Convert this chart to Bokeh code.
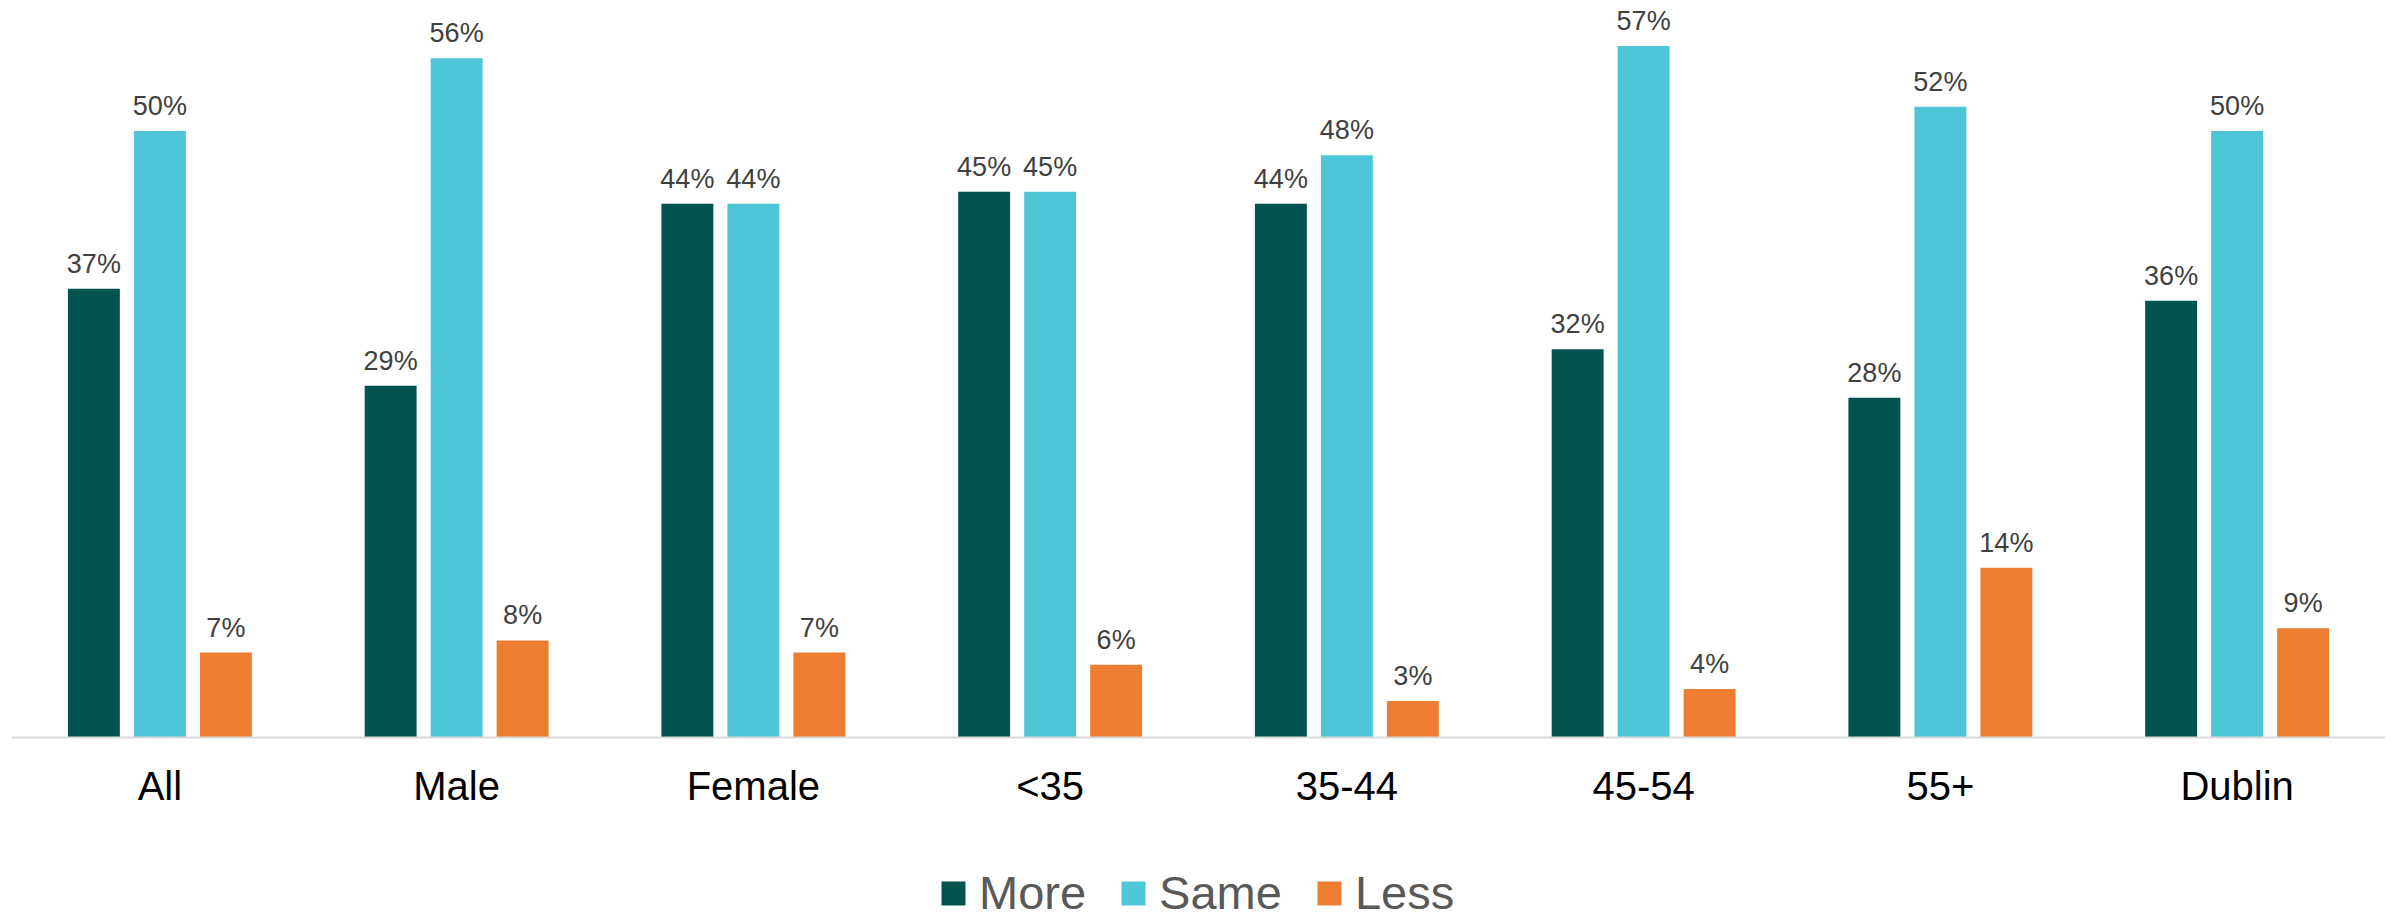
from bokeh.plotting import figure
from bokeh.layouts import column
from bokeh.models import ColumnDataSource, FactorRange, Range1d, LabelSet, Legend, LegendItem
from bokeh.transform import dodge
from bokeh.core.properties import value
from bokeh.embed import file_html
from bokeh.resources import INLINE

categories = ["All", "Male", "Female", "<35", "35-44", "45-54", "55+", "Dublin"]
more = [37, 29, 44, 45, 44, 32, 28, 36]
same = [50, 56, 44, 45, 48, 57, 52, 50]
less = [7, 8, 7, 6, 3, 4, 14, 9]
series_names = ["More", "Same", "Less"]
colors = ["#03544F", "#4EC6D7", "#ED7D31"]

src = ColumnDataSource(data=dict(
    cat=categories,
    more=more, same=same, less=less,
    more_lbl=[f"{v}%" for v in more],
    same_lbl=[f"{v}%" for v in same],
    less_lbl=[f"{v}%" for v in less],
))

p = figure(
    width=2394, height=817,
    x_range=FactorRange(*categories, range_padding=0),
    y_range=Range1d(0, 60.76),
    output_backend="svg", toolbar_location=None,
    y_axis_location=None,
    min_border_left=11, min_border_right=9, min_border_top=0, min_border_bottom=80,
)
p.outline_line_color = None
p.xgrid.grid_line_color = None
p.ygrid.grid_line_color = None

bar_w = 0.175
offs = [-0.2224, 0.0, 0.2224]
keys = ["more", "same", "less"]
for key, off, col in zip(keys, offs, colors):
    p.vbar(x=dodge("cat", off, range=p.x_range), top=key, width=bar_w,
           source=src, fill_color=col, line_color=None)
    lbl = LabelSet(x=dodge("cat", off, range=p.x_range), y=key, text=key + "_lbl",
                   source=src, text_align="center", text_baseline="alphabetic",
                   y_offset=16, text_font=value("Liberation Sans"), text_font_size="27px",
                   text_color="#404040")
    p.add_layout(lbl)

ax = p.xaxis[0]
ax.axis_line_color = "#D9D9D9"
ax.axis_line_width = 2
ax.major_tick_line_color = None
ax.minor_tick_line_color = None
ax.major_tick_out = 0
ax.major_tick_in = 0
ax.major_label_standoff = 26
ax.major_label_text_font = "Liberation Sans"
ax.major_label_text_font_size = "40px"
ax.major_label_text_color = "#000000"

# legend strip: same series, rendered muted with a fully transparent muted look,
# so only the legend entries (which use the normal colours) show
pl = figure(
    width=2394, height=100,
    x_range=FactorRange(*categories, range_padding=0), y_range=Range1d(-2, -1),
    output_backend="svg", toolbar_location=None,
    x_axis_location=None, y_axis_location=None,
    min_border_left=0, min_border_right=0, min_border_top=0, min_border_bottom=0,
)
pl.outline_line_color = None
pl.xgrid.grid_line_color = None
pl.ygrid.grid_line_color = None
leg_renderers = []
for key, off, col in zip(keys, offs, colors):
    r = pl.vbar(x=dodge("cat", off, range=pl.x_range), top=key, bottom=key, width=bar_w,
                source=src, fill_color=col, line_color=None,
                muted_fill_alpha=0, muted_line_alpha=0)
    r.muted = True
    leg_renderers.append(r)

legend = Legend(
    items=[LegendItem(label=n, renderers=[r]) for n, r in zip(series_names, leg_renderers)],
    orientation="horizontal",
    location=(927, -3),
    padding=0, margin=0, spacing=32,
    glyph_width=30, glyph_height=30, label_standoff=11, label_height=40,
    label_text_font="Liberation Sans", label_text_font_size="47px",
    label_text_color="#595959",
    border_line_color=None, background_fill_alpha=0,
)
pl.add_layout(legend, "center")

layout = column(p, pl, spacing=0)
open("out.html", "w").write(file_html(layout, INLINE))
